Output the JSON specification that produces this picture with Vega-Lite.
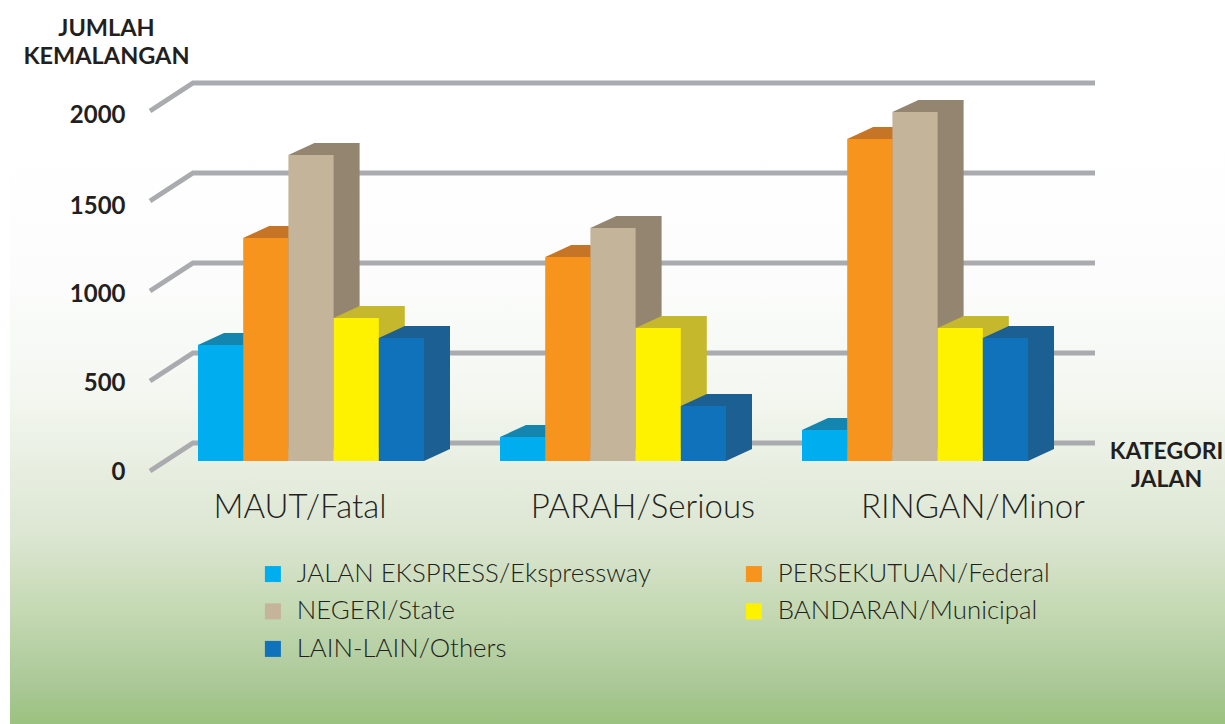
{
"$schema":"https://vega.github.io/schema/vega-lite/v6.json",
"autosize":{"type":"none"},
"padding":{"left":10,"top":0,"right":0,"bottom":0},
"width":1215,"height":724,
"background":"#ffffff",
"view":{"stroke":null,"fill":{"gradient":"linear","x1":0,"y1":0,"x2":0,"y2":1,"stops":[{"offset":0,"color":"#ffffff"},{"offset":0.2,"color":"#ffffff"},{"offset":0.4,"color":"#fbfcfb"},{"offset":0.55,"color":"#f3f7f0"},{"offset":0.65,"color":"#e7eee0"},{"offset":0.74,"color":"#dce6d2"},{"offset":0.85,"color":"#c3d8b1"},{"offset":0.94,"color":"#acc999"},{"offset":1,"color":"#9bc280"}]}},
"datasets":{
"grid":[{"nilai":0},{"nilai":500},{"nilai":1000},{"nilai":1500},{"nilai":2000}],
"bars":[
{"kategori":"MAUT/Fatal","jalan":"JALAN EKSPRESS/Ekspressway","nilai":644},
{"kategori":"MAUT/Fatal","jalan":"PERSEKUTUAN/Federal","nilai":1239},
{"kategori":"MAUT/Fatal","jalan":"NEGERI/State","nilai":1700},
{"kategori":"MAUT/Fatal","jalan":"BANDARAN/Municipal","nilai":794},
{"kategori":"MAUT/Fatal","jalan":"LAIN-LAIN/Others","nilai":683},
{"kategori":"PARAH/Serious","jalan":"JALAN EKSPRESS/Ekspressway","nilai":133},
{"kategori":"PARAH/Serious","jalan":"PERSEKUTUAN/Federal","nilai":1133},
{"kategori":"PARAH/Serious","jalan":"NEGERI/State","nilai":1294},
{"kategori":"PARAH/Serious","jalan":"BANDARAN/Municipal","nilai":739},
{"kategori":"PARAH/Serious","jalan":"LAIN-LAIN/Others","nilai":306},
{"kategori":"RINGAN/Minor","jalan":"JALAN EKSPRESS/Ekspressway","nilai":172},
{"kategori":"RINGAN/Minor","jalan":"PERSEKUTUAN/Federal","nilai":1789},
{"kategori":"RINGAN/Minor","jalan":"NEGERI/State","nilai":1939},
{"kategori":"RINGAN/Minor","jalan":"BANDARAN/Municipal","nilai":739},
{"kategori":"RINGAN/Minor","jalan":"LAIN-LAIN/Others","nilai":683}
]},
"resolve":{"scale":{"color":"independent","xOffset":"independent"}},
"layer":[
{"data":{"name":"grid"},
 "mark":{"type":"point","shape":"M-467.5,10 L-424.5,-18 L477.5,-18","size":4,"filled":false,"stroke":"#a9abae","strokeWidth":5,"opacity":1,"strokeJoin":"miter"},
 "encoding":{"y":{"field":"nilai","type":"quantitative","scale":{"domain":[0,2000],"range":[461,101],"nice":false},
   "axis":{"orient":"left","offset":-115,"domain":false,"ticks":false,"grid":false,"values":[0,500,1000,1500,2000],"format":"d","labelPadding":0,"labelFont":"Lato","labelFontWeight":"bold","labelFontSize":24,"labelColor":"#231f20","labelBaseline":"middle",
   "labelOffset":{"condition":[{"test":"datum.value===0","value":11},{"test":"datum.value===500","value":12},{"test":"datum.value===1000","value":13},{"test":"datum.value===1500","value":15}],"value":14},
   "title":["JUMLAH","KEMALANGAN"],"titleFont":"Lato","titleFontWeight":"bold","titleFontSize":23.5,"titleColor":"#231f20","titleAngle":0,"titleAlign":"center","titleBaseline":"middle","titleX":-19,"titleY":28,"titleLineHeight":28}}}},
{"data":{"name":"bars"},
 "mark":{"type":"bar","yOffset":-12,"opacity":1},
 "encoding":{
  "x":{"field":"kategori","type":"nominal","sort":null,"scale":{"range":[188,1018],"paddingInner":0.2517,"paddingOuter":0},
   "axis":{"orient":"bottom","offset":-263,"domain":false,"ticks":false,"labelAngle":0,"labelPadding":30,"labelFont":"Lato","labelFontSize":33,"labelFontWeight":300,"labelLimit":500,"labelColor":"#231f20","labelBaseline":"top",
    "labelOffset":{"condition":[{"test":"datum.value==='MAUT/Fatal'","value":-11},{"test":"datum.value==='PARAH/Serious'","value":30}],"value":58},
    "title":["KATEGORI","JALAN"],"titleFont":"Lato","titleFontWeight":"bold","titleFontSize":23,"titleColor":"#231f20","titleAlign":"center","titleBaseline":"middle","titleX":1156,"titleY":-10,"titleLineHeight":28}},
  "xOffset":{"field":"jalan","type":"nominal","sort":null,"scale":{"type":"band","range":[26,252],"paddingInner":0,"paddingOuter":0}},
  "y":{"field":"nilai","type":"quantitative"},
  "color":{"field":"jalan","type":"nominal","sort":null,"legend":null,"scale":{"domain":["JALAN EKSPRESS/Ekspressway","PERSEKUTUAN/Federal","NEGERI/State","BANDARAN/Municipal","LAIN-LAIN/Others"],"range":["#1485ae","#c67526","#938570","#c6b82c","#1c6093"]}}}},
{"data":{"name":"bars"},
 "mark":{"type":"point","shape":"M22.6,0 L22.6,-12 L48.6,-12 Z","size":4,"filled":true,"opacity":1,"strokeWidth":0},
 "encoding":{
  "x":{"field":"kategori","type":"nominal","sort":null},
  "xOffset":{"field":"jalan","type":"nominal","sort":null,"scale":{"type":"band","range":[0,226],"paddingInner":0,"paddingOuter":0}},
  "y":{"datum":0,"type":"quantitative"},
  "color":{"field":"jalan","type":"nominal","sort":null,"legend":null,"scale":{"domain":["JALAN EKSPRESS/Ekspressway","PERSEKUTUAN/Federal","NEGERI/State","BANDARAN/Municipal","LAIN-LAIN/Others"],"range":["#1485ae","#c67526","#938570","#c6b82c","#1c6093"]}}}},
{"data":{"name":"bars"},
 "mark":{"type":"point","shape":"M-22.6,0 L22.6,0 L48.6,-12 L3.4,-12 Z","size":4,"filled":true,"opacity":1,"strokeWidth":0},
 "encoding":{
  "x":{"field":"kategori","type":"nominal","sort":null},
  "xOffset":{"field":"jalan","type":"nominal","sort":null,"scale":{"type":"band","range":[0,226],"paddingInner":0,"paddingOuter":0}},
  "y":{"field":"nilai","type":"quantitative"},
  "color":{"field":"jalan","type":"nominal","sort":null,"legend":null,"scale":{"domain":["JALAN EKSPRESS/Ekspressway","PERSEKUTUAN/Federal","NEGERI/State","BANDARAN/Municipal","LAIN-LAIN/Others"],"range":["#1485ae","#c67526","#938570","#c6b82c","#1c6093"]}}}},
{"data":{"name":"bars"},
 "mark":{"type":"bar","opacity":1},
 "encoding":{
  "x":{"field":"kategori","type":"nominal","sort":null},
  "xOffset":{"field":"jalan","type":"nominal","sort":null,"scale":{"type":"band","range":[0,226],"paddingInner":0,"paddingOuter":0}},
  "y":{"field":"nilai","type":"quantitative"},
  "color":{"field":"jalan","type":"nominal","sort":null,"scale":{"domain":["JALAN EKSPRESS/Ekspressway","NEGERI/State","LAIN-LAIN/Others","PERSEKUTUAN/Federal","BANDARAN/Municipal"],"range":["#00aeef","#c4b49a","#0f72bb","#f7941d","#fff200"]},
   "legend":{"orient":"none","legendX":250,"legendY":561,"columns":2,"title":null,"symbolType":"square","symbolSize":256,"symbolStrokeWidth":0,"symbolOpacity":1,"labelFont":"Lato","labelFontSize":25.8,"labelFontWeight":300,"labelColor":"#231f20","labelOffset":11,"rowPadding":10.5,"columnPadding":90,"labelLimit":500,"padding":0}}}}
]
}
